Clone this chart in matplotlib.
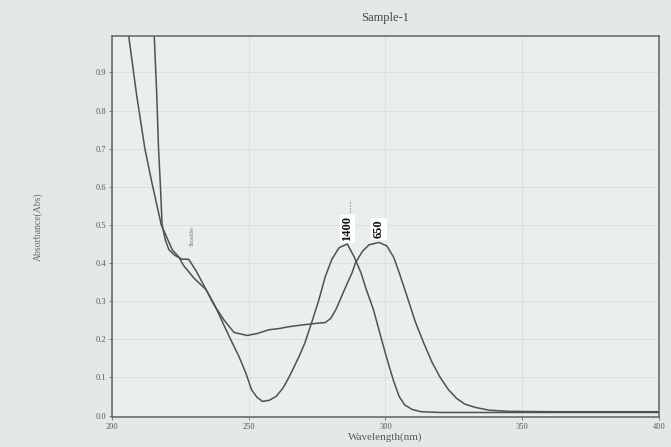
import numpy as np
import matplotlib.pyplot as plt

# (wavelength in nm, absorbance)
wl_a = [205, 206, 209, 212, 214.6, 218, 222, 224.5, 226, 230, 234.4, 237.5,
        241.7, 244, 246.4, 249, 251, 253, 255, 257.5, 260, 262.5, 264.7, 268.4,
        270.5, 273, 275.5, 278, 280.4, 283, 286, 288.5, 291, 293, 295.5, 297.6,
        299.5, 301.3, 303, 305, 307, 309.7, 313, 320, 340, 370, 400]
abs_a = [1.10, 1.00, 0.84, 0.70, 0.61, 0.50, 0.435, 0.415, 0.395, 0.36, 0.33, 0.29,
         0.225, 0.19, 0.155, 0.11, 0.068, 0.048, 0.037, 0.040, 0.050, 0.072, 0.10, 0.155,
         0.19, 0.244, 0.30, 0.365, 0.41, 0.44, 0.45, 0.417, 0.375, 0.33, 0.28, 0.225,
         0.175, 0.13, 0.09, 0.05, 0.028, 0.016, 0.010, 0.008, 0.008, 0.008, 0.008]

wl_b = [215, 215.4, 216.3, 217, 217.7, 218.3, 219.5, 220.8, 223, 225.6, 228, 230.7,
        234.4, 237.3, 241, 244.6, 249.4, 253, 257.4, 261, 264.7, 270, 275, 278,
        280, 282, 285, 287.8, 289, 291.5, 294, 297.6, 300.5, 303, 305, 308, 311,
        314, 317, 320, 323, 326, 329, 333, 338, 345, 360, 380, 400]
abs_b = [1.10, 1.00, 0.85, 0.70, 0.60, 0.50, 0.46, 0.435, 0.42, 0.41, 0.41, 0.38,
         0.33, 0.29, 0.25, 0.218, 0.21, 0.215, 0.225, 0.228, 0.233, 0.238, 0.242, 0.244,
         0.255, 0.28, 0.33, 0.375, 0.40, 0.43, 0.448, 0.454, 0.445, 0.415, 0.375, 0.31, 0.244,
         0.19, 0.14, 0.10, 0.068, 0.045, 0.030, 0.021, 0.014, 0.011, 0.010, 0.010, 0.010]

peak_wl = [286, 297.6]
peak_text = ['1400', '650']

xticks = [200, 250, 300, 350, 400]
yticks = [0.0, 0.1, 0.2, 0.3, 0.4, 0.5, 0.6, 0.7, 0.8, 0.9]

bg = '#e3eae5'
ink = '#4b5550'
serif = ['Liberation Serif', 'DejaVu Serif']

fig = plt.figure(figsize=(6.71, 4.47), dpi=100, facecolor=bg)
ax = fig.add_axes([0.167, 0.067, 0.815, 0.852], facecolor='#e9efeb')

ax.plot(wl_a, abs_a, color=ink, lw=1.1)
ax.plot(wl_b, abs_b, color=ink, lw=1.1)

ax.set_xlim(200, 400)
ax.set_ylim(-0.004, 0.995)
ax.set_xticks(xticks)
ax.set_xticklabels([str(t) for t in xticks], family=serif, fontsize=6, color='#555c58')
ax.set_yticks(yticks)
ax.set_yticklabels(['%.1f' % t for t in yticks], family=serif, fontsize=6, color='#555c58')
ax.tick_params(length=2, width=0.6, color='#6a716d', pad=2)
ax.grid(True, color='#d6dfd9', lw=0.6)
for s in ax.spines.values():
    s.set_color('#5d6661')
    s.set_linewidth(1.1)

ax.set_title('Sample-1', family=serif, fontsize=9, color='#444b47', pad=11)
ax.set_xlabel('Wavelength(nm)', family=serif, fontsize=8, color='#555c58', labelpad=1)
ax.set_ylabel('Absorbance(Abs)', family=serif, fontsize=7, color='#666d69', labelpad=38)

# peak labels
for w, t in zip(peak_wl, peak_text):
    ax.text(w, 0.49, t, rotation=90, ha='center', va='center', family=serif,
            fontsize=9, fontweight='bold', color='#111111',
            bbox=dict(facecolor='white', edgecolor='none', pad=1.2))
ax.plot([peak_wl[0] + 1.2, peak_wl[0] + 1.2], [0.535, 0.565], color='#777', lw=0.8, ls=':')

ax.text(229.3, 0.47, 'Shoulder', rotation=90, ha='center', va='center', family=serif,
        fontsize=4, color='#777d79')

fig.savefig('out.png', dpi=100, facecolor=bg)
